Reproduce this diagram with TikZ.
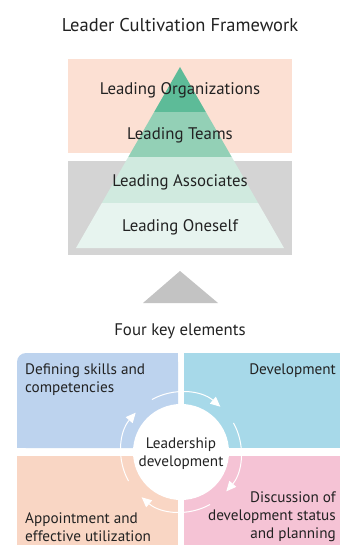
\documentclass[tikz,border=0pt]{standalone}
\usepackage{fontspec}
\setmainfont{PT Sans}
\usetikzlibrary{arrows.meta}
\definecolor{txt}{HTML}{222222}
\definecolor{peach}{HTML}{FCE0D3}
\definecolor{grayband}{HTML}{D4D4D4}
\definecolor{gA}{HTML}{5DBB98}
\definecolor{gB}{HTML}{93D0B6}
\definecolor{gC}{HTML}{D0EADF}
\definecolor{gD}{HTML}{E7F4EF}
\definecolor{grayarrow}{HTML}{C3C3C3}
\definecolor{qTL}{HTML}{BDD3EE}
\definecolor{qTR}{HTML}{A7D9E9}
\definecolor{qBL}{HTML}{F9D6C4}
\definecolor{qBR}{HTML}{F5C3D5}
\tikzset{
  lbl/.style={text=txt, font=\fontsize{16.8}{19}\selectfont, inner sep=0pt},
  qlbl/.style={text=txt, font=\fontsize{15.2}{18}\selectfont, inner sep=0pt},
  cyc/.style={draw=white, line width=1pt, -{Triangle[width=9pt,length=10pt,fill=white]}},
}
\begin{document}
\begin{tikzpicture}[x=1pt,y=-1pt]
\useasboundingbox (0,0) rectangle (340,545);
\fill[white] (0,0) rectangle (340,545);
% title
\node[lbl, font=\fontsize{18.5}{21}\selectfont] (title) at (180,25) {Leader Cultivation Framework};
% band backgrounds
\fill[peach] (68,59) rectangle (292,153);
\fill[grayband] (68,161) rectangle (292,255);
% pyramid
\begin{scope}
\clip (180,67) -- (284,248) -- (76,248) -- cycle;
\fill[gA] (60,60) rectangle (300,112);
\fill[gB] (60,112) rectangle (300,157);
\fill[gC] (60,157) rectangle (300,203);
\fill[gD] (60,203) rectangle (300,250);
\end{scope}
\node[lbl] (org) at (180,90.5) {Leading Organizations};
\node[lbl] (teams) at (180,135.5) {Leading Teams};
\node[lbl] (assoc) at (180,182) {Leading Associates};
\node[lbl] (self) at (180,227) {Leading Oneself};
% gray arrow
\fill[grayarrow] (180,271) -- (218,303) -- (143,303) -- cycle;
\node[lbl] (four) at (180,331) {Four key elements};
% quadrants
\fill[qTL, rounded corners=9pt] (17,353) rectangle (178,448);
\fill[qTL] (100,353) rectangle (178,448);
\fill[qTL] (17,400) rectangle (178,448);
\fill[qTR] (184,353) rectangle (340,448);
\fill[qBL] (17,456) rectangle (178,545);
\fill[qBR] (184,456) rectangle (340,545);
% center circle
\coordinate (c) at (181,452);
\fill[white] (c) circle[radius=48];
\draw[cyc] (c) ++(-119:60) arc[start angle=-119, end angle=-49, radius=60];
\draw[cyc] (c) ++(-29:60) arc[start angle=-29, end angle=41, radius=60];
\draw[cyc] (c) ++(61:60) arc[start angle=61, end angle=131, radius=60];
\draw[cyc] (c) ++(151:60) arc[start angle=151, end angle=221, radius=60];
\node[qlbl, align=center] (ld) at (181,454) {Leadership\\development};
% quadrant texts
\node[qlbl, align=left, anchor=north west] (q1) at (25,363.5) {Defining skills and\\competencies};
\node[qlbl, align=right, anchor=north east] (q2) at (336,363.5) {Development};
\node[qlbl, align=left, anchor=south west] (q3) at (25,542) {Appointment and\\effective utilization};
\node[qlbl, align=right, anchor=south east] (q4) at (336,542) {Discussion of\\development status\\and planning};
\end{tikzpicture}
\end{document}
